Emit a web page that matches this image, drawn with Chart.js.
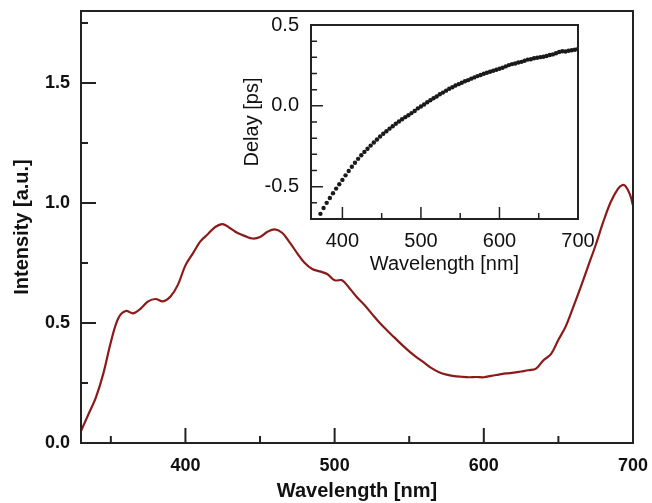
<!DOCTYPE html>
<html>
<head>
<meta charset="utf-8">
<script src="https://cdn.jsdelivr.net/npm/chart.js@4.4.1/dist/chart.umd.min.js"></script>
<style>
  body { margin: 0; background: #fff; }
  #wrap { position: relative; width: 652px; height: 503px; }
  #mainChart { position: absolute; left: 0; top: 0; }
  #insetChart { position: absolute; left: 230px; top: 0; }
</style>
</head>
<body>
<div id="wrap">
  <canvas id="mainChart" width="652" height="503"></canvas>
  <canvas id="insetChart" width="422" height="290"></canvas>
</div>
<script>
// main spectrum
var wavelength = [330,335,340,345,350,355,360,365,370,375,380,385,390,395,400,405,410,415,420,425,
  430,435,440,445,450,455,460,465,470,475,480,485,490,495,500,505,510,515,520,525,
  530,535,540,545,550,555,560,565,570,575,580,585,590,595,600,605,610,615,620,625,
  630,635,640,645,650,655,660,665,670,675,680,685,690,693,695,698,700];
var intensity = [0.05,0.12,0.19,0.29,0.42,0.52,0.55,0.54,0.56,0.59,0.60,0.59,0.61,0.66,0.74,0.79,0.84,0.87,0.90,0.912,
  0.895,0.875,0.862,0.852,0.858,0.880,0.890,0.875,0.835,0.79,0.75,0.725,0.715,0.704,0.678,0.678,0.645,0.607,0.575,0.538,
  0.502,0.47,0.44,0.41,0.382,0.357,0.335,0.312,0.295,0.285,0.279,0.276,0.274,0.275,0.274,0.28,0.285,0.29,0.293,0.298,
  0.303,0.31,0.345,0.37,0.43,0.487,0.567,0.651,0.738,0.825,0.92,1.003,1.06,1.075,1.07,1.035,0.99];

// inset delay
var insetWl = [372,376,380,384,388,392,396,400,404,408,412,416,420,424,428,432,436,440,444,448,
  452,456,460,464,468,472,476,480,484,488,492,496,500,504,508,512,516,520,524,528,
  532,536,540,544,548,552,556,560,564,568,572,576,580,584,588,592,596,600,604,608,
  612,616,620,624,628,632,636,640,644,648,652,656,660,664,668,672,676,680,684,688,
  692,696,700];
var delay = [-0.668,-0.632,-0.600,-0.570,-0.541,-0.512,-0.485,-0.458,-0.430,-0.403,-0.377,-0.352,-0.328,-0.306,-0.285,-0.265,-0.246,-0.227,-0.208,-0.190,
  -0.173,-0.157,-0.141,-0.126,-0.111,-0.097,-0.083,-0.070,-0.058,-0.045,-0.032,-0.016,-0.004,0.008,0.022,0.035,0.047,0.058,0.072,0.082,
  0.094,0.106,0.115,0.126,0.134,0.143,0.152,0.159,0.168,0.176,0.184,0.191,0.198,0.205,0.211,0.217,0.223,0.229,0.236,0.244,
  0.252,0.258,0.262,0.268,0.272,0.279,0.286,0.288,0.294,0.297,0.301,0.304,0.308,0.314,0.318,0.325,0.333,0.338,0.336,0.341,
  0.344,0.347,0.352];

// ticks
var mainXLabels = [400,500,600,700];
var mainXMajor = [400,500,600];
var mainXMinor = [350,450,550,650];
var mainYLabels = [0,0.5,1.0,1.5];
var mainYMajor = [0.5,1.0,1.5];
var mainYMinor = [0.25,0.75,1.25,1.75];

var insetXLabels = [400,500,600,700];
var insetXMajor = [400,500,600];
var insetXMinor = [450,550,650];
var insetYLabels = [-0.5,0,0.5];
var insetYMajor = [-0.5,0];
var insetYMinor = [-0.6,-0.4,-0.3,-0.2,-0.1,0.1,0.2,0.3,0.4];

var FONT = "'Liberation Sans', Arial, sans-serif";

function pts(xs, ys) {
  return xs.map(function(v, i){ return {x: v, y: ys[i]}; });
}

function fmt1(v) {
  v = Number(v);
  if (Math.abs(v) < 1e-9) v = 0;
  return v.toFixed(1);
}

// keep chart area where we put it
function fixSize(prop, size) {
  return function(s) {
    s[prop] = size;
    s.paddingLeft = 0; s.paddingRight = 0; s.paddingTop = 0; s.paddingBottom = 0;
  };
}

// box frame + inward ticks
function frameTicks(o) {
  return {
    id: 'frameTicks',
    afterDraw: function(chart) {
      var ctx = chart.ctx, a = chart.chartArea;
      var x = chart.scales.x, y = chart.scales.y;
      ctx.save();
      ctx.strokeStyle = '#222';
      ctx.lineWidth = o.lw;
      ctx.strokeRect(a.left, a.top, a.right - a.left, a.bottom - a.top);
      ctx.lineWidth = o.tw;
      ctx.beginPath();
      o.xMajor.forEach(function(v){ var p = x.getPixelForValue(v); ctx.moveTo(p, a.bottom); ctx.lineTo(p, a.bottom - o.major); });
      o.xMinor.forEach(function(v){ var p = x.getPixelForValue(v); ctx.moveTo(p, a.bottom); ctx.lineTo(p, a.bottom - o.minor); });
      o.yMajor.forEach(function(v){ var p = y.getPixelForValue(v); ctx.moveTo(a.left, p); ctx.lineTo(a.left + o.major, p); });
      o.yMinor.forEach(function(v){ var p = y.getPixelForValue(v); ctx.moveTo(a.left, p); ctx.lineTo(a.left + o.minor, p); });
      ctx.stroke();
      ctx.restore();
    }
  };
}

new Chart(document.getElementById('mainChart').getContext('2d'), {
  type: 'line',
  data: {
    datasets: [{
      data: pts(wavelength, intensity),
      borderColor: '#8b1a1a',
      borderWidth: 2.2,
      pointRadius: 0,
      tension: 0.35,
      fill: false
    }]
  },
  options: {
    responsive: false,
    animation: false,
    devicePixelRatio: 1,
    layout: { padding: { top: 11, right: 19, left: 0, bottom: 0 } },
    plugins: { legend: { display: false }, tooltip: { enabled: false } },
    scales: {
      x: {
        type: 'linear', min: 330, max: 700,
        grid: { display: false, drawTicks: false }, border: { display: false },
        afterBuildTicks: function(s){ s.ticks = mainXLabels.map(function(v){ return {value: v}; }); },
        afterFit: fixSize('height', 60),
        ticks: { color: '#111', padding: 12, maxRotation: 0, font: { family: FONT, size: 18, weight: 'bold' },
          callback: function(v){ return String(v); } },
        title: { display: true, text: 'Wavelength [nm]', color: '#111', padding: { top: 0, bottom: 0 },
          font: { family: FONT, size: 20, weight: 'bold' } }
      },
      y: {
        type: 'linear', min: 0, max: 1.8,
        grid: { display: false, drawTicks: false }, border: { display: false },
        afterBuildTicks: function(s){ s.ticks = mainYLabels.map(function(v){ return {value: v}; }); },
        afterFit: fixSize('width', 81),
        ticks: { color: '#111', padding: 11, font: { family: FONT, size: 18, weight: 'bold' },
          callback: fmt1 },
        title: { display: true, text: 'Intensity [a.u.]', color: '#111', padding: { top: 10, bottom: 0 },
          font: { family: FONT, size: 20, weight: 'bold' } }
      }
    }
  },
  plugins: [frameTicks({ lw: 2, tw: 2, major: 15, minor: 7,
    xMajor: mainXMajor, xMinor: mainXMinor, yMajor: mainYMajor, yMinor: mainYMinor })]
});

new Chart(document.getElementById('insetChart').getContext('2d'), {
  type: 'scatter',
  data: {
    datasets: [{
      data: pts(insetWl, delay),
      backgroundColor: '#1a1a1a',
      borderColor: '#1a1a1a',
      pointRadius: 2.2,
      pointBorderWidth: 0
    }]
  },
  options: {
    responsive: false,
    animation: false,
    devicePixelRatio: 1,
    layout: { padding: { top: 25, right: 74, left: 0, bottom: 0 } },
    plugins: { legend: { display: false }, tooltip: { enabled: false } },
    scales: {
      x: {
        type: 'linear', min: 360, max: 700,
        grid: { display: false, drawTicks: false }, border: { display: false },
        afterBuildTicks: function(s){ s.ticks = insetXLabels.map(function(v){ return {value: v}; }); },
        afterFit: fixSize('height', 71),
        ticks: { color: '#111', padding: 10, maxRotation: 0, font: { family: FONT, size: 20 },
          callback: function(v){ return String(v); } },
        title: { display: true, text: 'Wavelength [nm]', color: '#111', padding: { top: 0, bottom: 14 },
          font: { family: FONT, size: 20 } }
      },
      y: {
        type: 'linear', min: -0.7, max: 0.5,
        grid: { display: false, drawTicks: false }, border: { display: false },
        afterBuildTicks: function(s){ s.ticks = insetYLabels.map(function(v){ return {value: v}; }); },
        afterFit: fixSize('width', 81),
        ticks: { color: '#111', padding: 12, font: { family: FONT, size: 20 },
          callback: fmt1 },
        title: { display: true, text: 'Delay [ps]', color: '#111', padding: { top: 10, bottom: 0 },
          font: { family: FONT, size: 20 } }
      }
    }
  },
  plugins: [frameTicks({ lw: 2, tw: 1.5, major: 12, minor: 6,
    xMajor: insetXMajor, xMinor: insetXMinor, yMajor: insetYMajor, yMinor: insetYMinor })]
});
</script>
</body>
</html>
